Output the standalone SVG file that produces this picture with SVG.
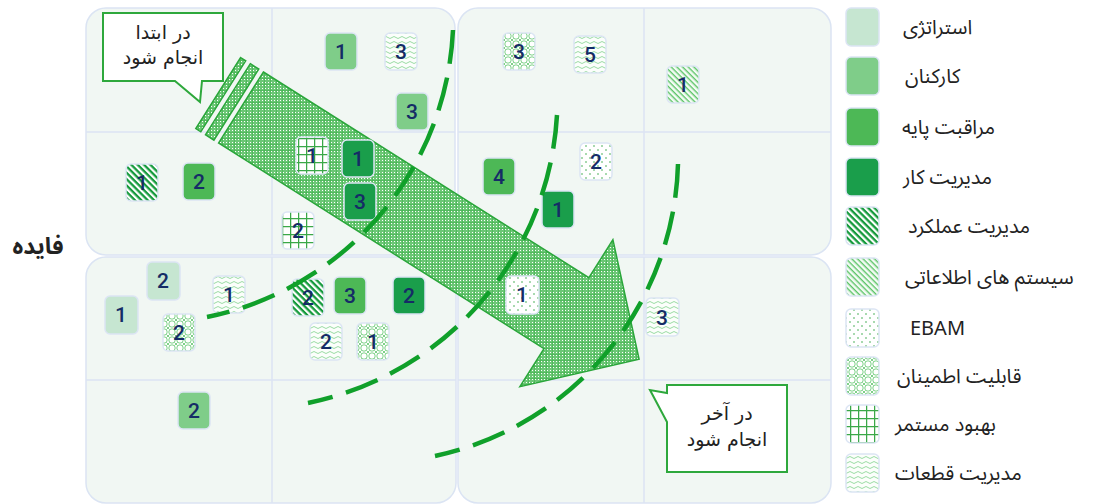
<svg xmlns="http://www.w3.org/2000/svg" width="1096" height="504" viewBox="0 0 1096 504">
<style>
.panel{fill:#f1f7f3;stroke:#dbe4f3;stroke-width:1.5}
.grid{stroke:#dbe4f3;stroke-width:1.5}
.sq{stroke:#dce5f4;stroke-width:1.5}
.num{font-family:Roboto,'Liberation Sans',sans-serif;font-weight:500;font-size:21px;fill:#152c66;text-anchor:middle}
.fa{font-family:'Noto Sans Arabic','DejaVu Sans',sans-serif;fill:#222}
.leg{font-size:20px}
.ct{font-family:'DejaVu Sans',sans-serif;font-size:19px;text-anchor:middle;fill:#222}
.call{fill:#fff;stroke:#2ea83c;stroke-width:2}
.arc{fill:none;stroke:#10a02a;stroke-width:4.5;stroke-dasharray:34 14}
.arrow{fill:url(#pArrow);stroke:#2aa63a;stroke-width:1.5}
.c1{fill:#c6e6d1}.c2{fill:#7fcd89}.c3{fill:#4db856}.c4{fill:#1a9e4b}
.c5{fill:url(#pStripeDark)}.c6{fill:url(#pStripeLight)}.c7{fill:url(#pDots)}
.c8{fill:url(#pLattice)}.c9{fill:url(#pGrid)}.c10{fill:url(#pWave)}
</style>
<defs>
<pattern id="pStripeDark" width="4.5" height="4.5" patternUnits="userSpaceOnUse" patternTransform="rotate(45)">
<rect width="4.5" height="4.5" fill="#fff"/><rect width="4.5" height="2.3" fill="#159a3c"/>
</pattern>
<pattern id="pStripeLight" width="4" height="4" patternUnits="userSpaceOnUse" patternTransform="rotate(45)">
<rect width="4" height="4" fill="#f4fbf5"/><rect width="4" height="1.4" fill="#5cc467"/>
</pattern>
<pattern id="pDots" width="8" height="8" patternUnits="userSpaceOnUse">
<rect width="8" height="8" fill="#fff"/><circle cx="2" cy="2" r="0.8" fill="#39a94a"/><circle cx="6" cy="6" r="0.8" fill="#39a94a"/>
</pattern>
<pattern id="pLattice" width="8" height="8" patternUnits="userSpaceOnUse">
<rect width="8" height="8" fill="#fff"/>
<circle cx="4" cy="4" r="3.2" fill="none" stroke="#5cc468" stroke-width="0.8"/>
<path d="M0 0L1.4 1.4M8 0L6.6 1.4M0 8L1.4 6.6M8 8L6.6 6.6" stroke="#5cc468" stroke-width="0.8"/>
</pattern>
<pattern id="pGrid" width="8" height="8" patternUnits="userSpaceOnUse" x="2" y="2">
<rect width="8" height="8" fill="#fff"/><path d="M0.6 0V8M0 0.6H8" stroke="#3aa848" stroke-width="1.3"/>
</pattern>
<pattern id="pWave" width="8" height="5" patternUnits="userSpaceOnUse">
<rect width="8" height="5" fill="#fbfefb"/><path d="M0 2.5Q2 0.5 4 2.5T8 2.5" fill="none" stroke="#8fd799" stroke-width="0.9"/>
</pattern>
<pattern id="pArrow" width="6" height="6" patternUnits="userSpaceOnUse">
<rect width="6" height="6" fill="#6cc776"/>
<rect x="1" y="1" width="1" height="1" fill="#fff"/><rect x="4" y="1" width="1" height="1" fill="#fff"/>
<rect x="1" y="4" width="1" height="1" fill="#fff"/><rect x="4" y="4" width="1" height="1" fill="#fff"/>
<rect x="0" y="0" width="6" height="0.7" fill="#47b553"/><rect x="0" y="0" width="0.7" height="6" fill="#47b553"/>
</pattern>
</defs>

<g id="panels">
<rect class="panel" x="86" y="8" width="369" height="247" rx="20"/>
<rect class="panel" x="458" y="8" width="373" height="247" rx="20"/>
<rect class="panel" x="86" y="257" width="370" height="246" rx="20"/>
<rect class="panel" x="458" y="257" width="373" height="246" rx="20"/>
<path class="grid" d="M272 8V255M272 257V503M644 8V255M644 257V503M86 132H455M458 132H831M86 380H456M458 380H831"/>
</g>

<text class="fa" x="38" y="254" font-size="23" font-weight="bold" text-anchor="middle">فایده</text>

<g id="arrow">
<polygon class="arrow" points="240.6,57.6 245.7,60.8 200.8,131.8 195.8,128.6"/>
<polygon class="arrow" points="250.3,63.7 258.8,69.1 213.9,140.1 205.5,134.7"/>
<polygon class="arrow" points="263.4,72 588.9,277.7 612.9,239.7 639.1,359.2 519.9,386.7 544,348.7 218.6,143"/>
</g>

<g id="items">
<g id="n1"><rect class="sq c2" x="325" y="33" width="32" height="37" rx="5"/><text class="num" x="341" y="59">1</text></g>
<g id="n2"><rect class="sq c10" x="385" y="33" width="32" height="37" rx="5"/><text class="num" x="401" y="59">3</text></g>
<g id="n3"><rect class="sq c2" x="396" y="93" width="32" height="37" rx="5"/><text class="num" x="412" y="119">3</text></g>
<g id="n4"><rect class="sq c9" x="296" y="137" width="32" height="37" rx="5"/><text class="num" x="312" y="163">1</text></g>
<g id="n5"><rect class="sq c4" x="342" y="140" width="32" height="37" rx="5"/><text class="num" x="358" y="166">1</text></g>
<g id="n6"><rect class="sq c4" x="344" y="183" width="32" height="37" rx="5"/><text class="num" x="360" y="209">3</text></g>
<g id="n7"><rect class="sq c9" x="282" y="212" width="32" height="37" rx="5"/><text class="num" x="298" y="238">2</text></g>
<g id="n8"><rect class="sq c5" x="126" y="164" width="32" height="37" rx="5"/><text class="num" x="142" y="190">1</text></g>
<g id="n9"><rect class="sq c3" x="183" y="163" width="32" height="37" rx="5"/><text class="num" x="199" y="189">2</text></g>
<g id="n10"><rect class="sq c8" x="503" y="33" width="32" height="37" rx="5"/><text class="num" x="519" y="59">3</text></g>
<g id="n11"><rect class="sq c10" x="574" y="36" width="32" height="37" rx="5"/><text class="num" x="590" y="62">5</text></g>
<g id="n12"><rect class="sq c6" x="667" y="66" width="32" height="37" rx="5"/><text class="num" x="683" y="92">1</text></g>
<g id="n13"><rect class="sq c7" x="580" y="143" width="32" height="37" rx="5"/><text class="num" x="596" y="169">2</text></g>
<g id="n14"><rect class="sq c3" x="483" y="158" width="32" height="37" rx="5"/><text class="num" x="499" y="184">4</text></g>
<g id="n15"><rect class="sq c4" x="542" y="191" width="32" height="37" rx="5"/><text class="num" x="558" y="217">1</text></g>
<g id="n16"><rect class="sq c1" x="147" y="262" width="33" height="38" rx="5"/><text class="num" x="163" y="288">2</text></g>
<g id="n17"><rect class="sq c1" x="105" y="296" width="33" height="38" rx="5"/><text class="num" x="121" y="322">1</text></g>
<g id="n18"><rect class="sq c10" x="213" y="276" width="32" height="37" rx="5"/><text class="num" x="229" y="302">1</text></g>
<g id="n19"><rect class="sq c8" x="163" y="314" width="32" height="37" rx="5"/><text class="num" x="179" y="340">2</text></g>
<g id="n20"><rect class="sq c5" x="292" y="279" width="32" height="37" rx="5"/><text class="num" x="308" y="305">2</text></g>
<g id="n21"><rect class="sq c3" x="334" y="277" width="32" height="37" rx="5"/><text class="num" x="350" y="303">3</text></g>
<g id="n22"><rect class="sq c4" x="393" y="277" width="32" height="37" rx="5"/><text class="num" x="409" y="303">2</text></g>
<g id="n23"><rect class="sq c10" x="310" y="323" width="32" height="37" rx="5"/><text class="num" x="326" y="349">2</text></g>
<g id="n24"><rect class="sq c8" x="357" y="323" width="32" height="37" rx="5"/><text class="num" x="373" y="349">1</text></g>
<g id="n25"><rect class="sq c2" x="178" y="392" width="32" height="37" rx="5"/><text class="num" x="194" y="418">2</text></g>
<g id="n26"><rect class="sq c7" x="506" y="276" width="33" height="38" rx="5"/><text class="num" x="522" y="302">1</text></g>
<g id="n27"><rect class="sq c10" x="646" y="298" width="33" height="38" rx="5"/><text class="num" x="662" y="325">3</text></g>
</g>

<g id="connectors">
<path class="arc" d="M453 30A307 307 0 0 1 207 317"/>
<path class="arc" d="M557 115A312 312 0 0 1 308 403"/>
<path class="arc" d="M678 164A307 307 0 0 1 435 456"/>
</g>

<g id="callout-start">
<path class="call" d="M103 13H223V81H202L200 102L175 81H103Z"/>
<text class="ct"><tspan x="163" y="39">در ابتدا</tspan><tspan x="163" y="64">انجام شود</tspan></text>
</g>
<g id="callout-end">
<path class="call" d="M667 385H787V472H667V422L650 390L667 393Z"/>
<text class="ct"><tspan x="727" y="420">در آخر</tspan><tspan x="727" y="446">انجام شود</tspan></text>
</g>

<g id="legend">
<g id="l1"><rect class="sq c1" x="846" y="8" width="33" height="38" rx="5"/><text class="fa leg" x="903" y="34">استراتژی</text></g>
<g id="l2"><rect class="sq c2" x="846" y="57" width="33" height="38" rx="5"/><text class="fa leg" x="905" y="83">کارکنان</text></g>
<g id="l3"><rect class="sq c3" x="846" y="108" width="33" height="38" rx="5"/><text class="fa leg" x="902" y="134">مراقبت پایه</text></g>
<g id="l4"><rect class="sq c4" x="846" y="158" width="33" height="38" rx="5"/><text class="fa leg" x="903" y="184">مدیریت کار</text></g>
<g id="l5"><rect class="sq c5" x="846" y="207" width="33" height="38" rx="5"/><text class="fa leg" x="908" y="233">مدیریت عملکرد</text></g>
<g id="l6"><rect class="sq c6" x="846" y="258" width="33" height="38" rx="5"/><text class="fa leg" x="905" y="284">سیستم های اطلاعاتی</text></g>
<g id="l7"><rect class="sq c7" x="846" y="309" width="33" height="38" rx="5"/><text class="fa leg" x="910" y="335">EBAM</text></g>
<g id="l8"><rect class="sq c8" x="846" y="357" width="33" height="38" rx="5"/><text class="fa leg" x="897" y="383">قابلیت اطمینان</text></g>
<g id="l9"><rect class="sq c9" x="846" y="405" width="33" height="38" rx="5"/><text class="fa leg" x="895" y="431">بهبود مستمر</text></g>
<g id="l10"><rect class="sq c10" x="846" y="454" width="33" height="38" rx="5"/><text class="fa leg" x="895" y="480">مدیریت قطعات</text></g>
</g>
</svg>
